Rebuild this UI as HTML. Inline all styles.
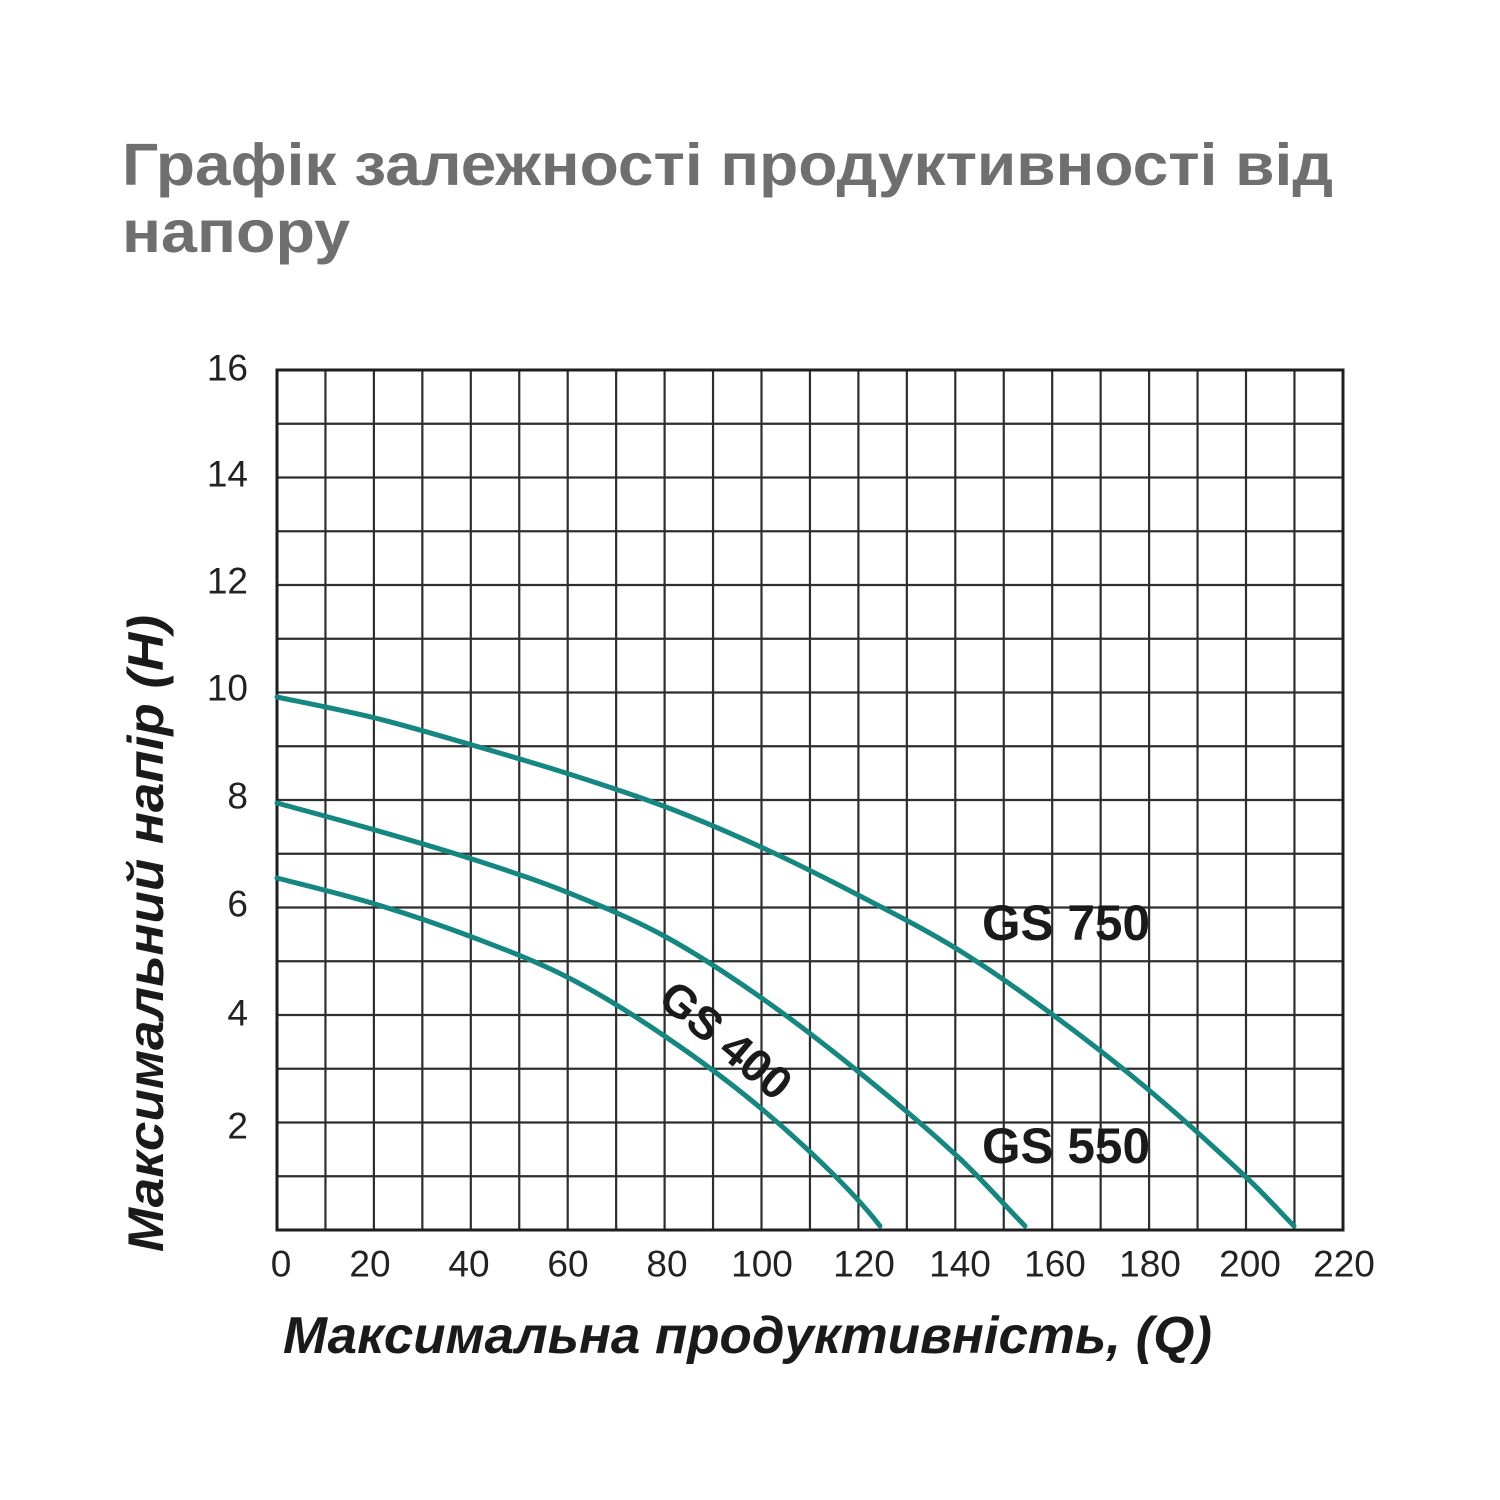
<!DOCTYPE html>
<html>
<head>
<meta charset="utf-8">
<style>
  html, body { margin: 0; padding: 0; background: #ffffff; }
  svg { display: block; }
</style>
</head>
<body>
<svg width="1500" height="1500" viewBox="0 0 1500 1500" xmlns="http://www.w3.org/2000/svg">
  <rect x="0" y="0" width="1500" height="1500" fill="#ffffff"/>

  <!-- Title -->
  <text x="122" y="185" font-family="Liberation Sans, DejaVu Sans, sans-serif" font-weight="bold" font-size="59" fill="#6f6f6f" textLength="1211" lengthAdjust="spacingAndGlyphs">Графік залежності продуктивності від</text>
  <text x="122" y="252" font-family="Liberation Sans, DejaVu Sans, sans-serif" font-weight="bold" font-size="59" fill="#6f6f6f" textLength="228" lengthAdjust="spacingAndGlyphs">напору</text>

  <!-- Grid -->
  <g stroke="#2e2e2e" stroke-width="2.2" fill="none">
    <line x1="325.45" y1="370" x2="325.45" y2="1230"/>
    <line x1="373.9" y1="370" x2="373.9" y2="1230"/>
    <line x1="422.35" y1="370" x2="422.35" y2="1230"/>
    <line x1="470.8" y1="370" x2="470.8" y2="1230"/>
    <line x1="519.25" y1="370" x2="519.25" y2="1230"/>
    <line x1="567.7" y1="370" x2="567.7" y2="1230"/>
    <line x1="616.15" y1="370" x2="616.15" y2="1230"/>
    <line x1="664.6" y1="370" x2="664.6" y2="1230"/>
    <line x1="713.05" y1="370" x2="713.05" y2="1230"/>
    <line x1="761.5" y1="370" x2="761.5" y2="1230"/>
    <line x1="809.95" y1="370" x2="809.95" y2="1230"/>
    <line x1="858.4" y1="370" x2="858.4" y2="1230"/>
    <line x1="906.85" y1="370" x2="906.85" y2="1230"/>
    <line x1="955.3" y1="370" x2="955.3" y2="1230"/>
    <line x1="1003.75" y1="370" x2="1003.75" y2="1230"/>
    <line x1="1052.2" y1="370" x2="1052.2" y2="1230"/>
    <line x1="1100.65" y1="370" x2="1100.65" y2="1230"/>
    <line x1="1149.1" y1="370" x2="1149.1" y2="1230"/>
    <line x1="1197.55" y1="370" x2="1197.55" y2="1230"/>
    <line x1="1246" y1="370" x2="1246" y2="1230"/>
    <line x1="1294.45" y1="370" x2="1294.45" y2="1230"/>

    <line x1="277" y1="423.75" x2="1343" y2="423.75"/>
    <line x1="277" y1="477.5" x2="1343" y2="477.5"/>
    <line x1="277" y1="531.25" x2="1343" y2="531.25"/>
    <line x1="277" y1="585" x2="1343" y2="585"/>
    <line x1="277" y1="638.75" x2="1343" y2="638.75"/>
    <line x1="277" y1="692.5" x2="1343" y2="692.5"/>
    <line x1="277" y1="746.25" x2="1343" y2="746.25"/>
    <line x1="277" y1="800" x2="1343" y2="800"/>
    <line x1="277" y1="853.75" x2="1343" y2="853.75"/>
    <line x1="277" y1="907.5" x2="1343" y2="907.5"/>
    <line x1="277" y1="961.25" x2="1343" y2="961.25"/>
    <line x1="277" y1="1015" x2="1343" y2="1015"/>
    <line x1="277" y1="1068.75" x2="1343" y2="1068.75"/>
    <line x1="277" y1="1122.5" x2="1343" y2="1122.5"/>
    <line x1="277" y1="1176.25" x2="1343" y2="1176.25"/>
  </g>
  <rect x="277" y="370" width="1066" height="860" fill="none" stroke="#1e1e1e" stroke-width="3"/>

  <!-- Y tick labels -->
  <g font-family="Liberation Sans, DejaVu Sans, sans-serif" font-size="37" fill="#222" text-anchor="end" dominant-baseline="central">
    <text x="248" y="368">16</text>
    <text x="248" y="474">14</text>
    <text x="248" y="581">12</text>
    <text x="248" y="688">10</text>
    <text x="248" y="796">8</text>
    <text x="248" y="904">6</text>
    <text x="248" y="1013">4</text>
    <text x="248" y="1126">2</text>
  </g>

  <!-- X tick labels -->
  <g font-family="Liberation Sans, DejaVu Sans, sans-serif" font-size="37" fill="#222" text-anchor="middle" dominant-baseline="central">
    <text x="281" y="1264">0</text>
    <text x="370" y="1264">20</text>
    <text x="469" y="1264">40</text>
    <text x="568" y="1264">60</text>
    <text x="667" y="1264">80</text>
    <text x="762" y="1264">100</text>
    <text x="864" y="1264">120</text>
    <text x="960" y="1264">140</text>
    <text x="1055" y="1264">160</text>
    <text x="1150" y="1264">180</text>
    <text x="1250" y="1264">200</text>
    <text x="1344" y="1264">220</text>
  </g>

  <!-- Curves -->
  <g fill="none" stroke="#138780" stroke-width="5" stroke-linecap="round" stroke-linejoin="round">
    <!-- GS 750 -->
    <path d="M277,697 C293.3,700.5 342.5,710 375,718 C407.5,726 439.7,735.7 472,745 C504.3,754.3 536.7,763.7 569,774 C601.3,784.3 633.7,794.7 666,807 C698.3,819.3 730.7,833.2 763,848 C795.3,862.8 827.7,879.2 860,896 C892.3,912.8 924.8,929.2 957,949 C989.2,968.8 1020.8,991.3 1053,1015 C1085.2,1038.7 1117.7,1063.8 1150,1091 C1182.3,1118.2 1214.7,1147.7 1247,1178 C1262.7,1192.7 1278.3,1210 1294,1226"/>
    <!-- GS 550 -->
    <path d="M277,803 C293.3,807.5 342.5,820.7 375,830 C407.5,839.3 439.7,848.5 472,859 C504.3,869.5 536.7,880 569,893 C601.3,906 633.7,919.3 666,937 C698.3,954.7 730.7,976.3 763,999 C795.3,1021.7 827.7,1046.8 860,1073 C892.3,1099.2 924.7,1126 957,1156 C979.7,1177 1002.3,1202.7 1025,1226"/>
    <!-- GS 400 -->
    <path d="M277,878 C293.3,882.3 342.5,894.2 375,904 C407.5,913.8 439.7,924.7 472,937 C504.3,949.3 536.7,961.3 569,978 C601.3,994.7 633.7,1015 666,1037 C698.3,1059 730.7,1082.8 763,1110 C795.3,1137.2 849.5,1186.5 880,1226"/>
  </g>

  <!-- Series labels -->
  <g font-family="Liberation Sans, DejaVu Sans, sans-serif" font-weight="bold" fill="#1a1a1a">
    <text x="982" y="940" font-size="50" textLength="168" lengthAdjust="spacingAndGlyphs">GS 750</text>
    <text x="982" y="1163" font-size="50" textLength="168" lengthAdjust="spacingAndGlyphs">GS 550</text>
    <text x="0" y="0" font-size="46" text-anchor="middle" dominant-baseline="central" transform="translate(726,1040) rotate(40)">GS 400</text>
  </g>

  <!-- Axis titles -->
  <text x="283" y="1353" font-family="Liberation Sans, DejaVu Sans, sans-serif" font-weight="bold" font-style="italic" font-size="52" fill="#1a1a1a" textLength="929" lengthAdjust="spacingAndGlyphs">Максимальна продуктивність, (Q)</text>
  <text x="0" y="0" font-family="Liberation Sans, DejaVu Sans, sans-serif" font-weight="bold" font-style="italic" font-size="50" fill="#1a1a1a" textLength="637" lengthAdjust="spacingAndGlyphs" transform="translate(163,1252) rotate(-90)">Максимальний напір (H)</text>
</svg>
</body>
</html>
